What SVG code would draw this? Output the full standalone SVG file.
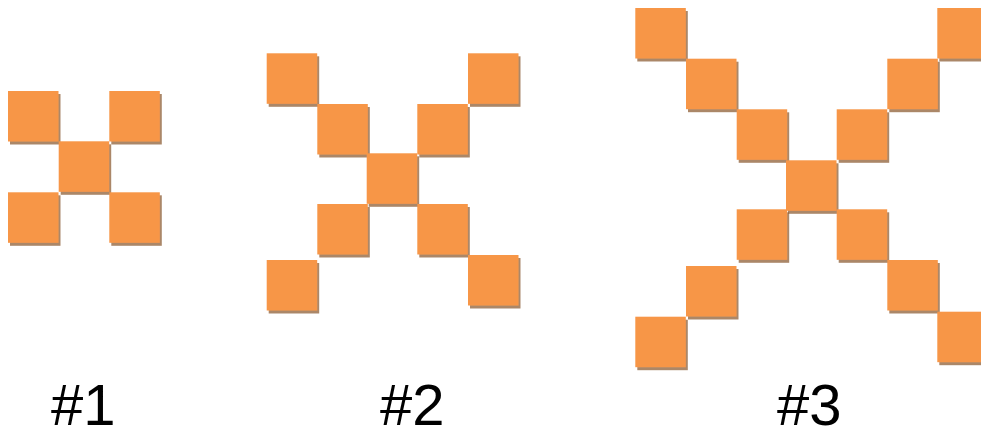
<svg xmlns="http://www.w3.org/2000/svg" width="981" height="437" viewBox="0 0 981 437">
<defs>
<filter id="sh" x="-10%" y="-10%" width="130%" height="130%">
<feDropShadow dx="2" dy="3" stdDeviation="0.7" flood-color="#8f5e36" flood-opacity="0.75"/>
</filter>
<symbol id="sq" overflow="visible"><rect width="50.5" height="50.5" fill="#F79646" filter="url(#sh)"/></symbol>
</defs>
<style>
.lbl{font-family:"Liberation Sans",Arial,sans-serif;font-size:58px;fill:#000}
</style>
<rect width="981" height="437" fill="#fff"/>
<g id="fig1">
<use href="#sq" x="8" y="91"/>
<use href="#sq" x="109.3" y="91"/>
<use href="#sq" x="58.7" y="141.3"/>
<use href="#sq" x="8" y="192.3"/>
<use href="#sq" x="109.3" y="192.3"/>
</g>
<g id="fig2">
<use href="#sq" x="266.7" y="53.3"/>
<use href="#sq" x="468" y="53.3"/>
<use href="#sq" x="317.3" y="104"/>
<use href="#sq" x="417.3" y="104"/>
<use href="#sq" x="366.7" y="153.3"/>
<use href="#sq" x="317.3" y="204"/>
<use href="#sq" x="417.3" y="204"/>
<use href="#sq" x="266.7" y="260"/>
<use href="#sq" x="468" y="255"/>
</g>
<g id="fig3">
<use href="#sq" x="635.3" y="8"/>
<use href="#sq" x="937.3" y="8"/>
<use href="#sq" x="686" y="58.7"/>
<use href="#sq" x="887.3" y="58.7"/>
<use href="#sq" x="736.7" y="109.3"/>
<use href="#sq" x="836.7" y="109.3"/>
<use href="#sq" x="786" y="160.3"/>
<use href="#sq" x="736.7" y="209.3"/>
<use href="#sq" x="836.7" y="209.3"/>
<use href="#sq" x="686" y="266"/>
<use href="#sq" x="887.3" y="260"/>
<use href="#sq" x="635.3" y="316.7"/>
<use href="#sq" x="937.3" y="311.7"/>
</g>
<g id="labels">
<text class="lbl" x="51" y="424.5">#1</text>
<text class="lbl" x="380" y="424.5">#2</text>
<text class="lbl" x="777" y="424.5">#3</text>
</g>
</svg>
